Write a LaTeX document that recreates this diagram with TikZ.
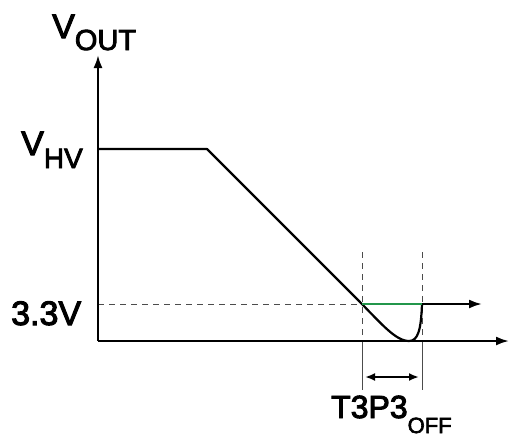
\documentclass[tikz,border=0pt]{standalone}
\usepackage{fontspec}
\setmainfont{Liberation Sans}
\newfontfamily\lblfont{Liberation Sans}[FakeBold=3]
\usetikzlibrary{arrows.meta}
\definecolor{grn}{RGB}{35,150,75}
\begin{document}
\begin{tikzpicture}[x=1pt,y=-1pt,
  axis/.style={line width=2.2pt,-{Latex[length=13pt,width=9pt]}},
  sig/.style={line width=2.2pt},
  guide/.style={line width=0.8pt,draw=black!70,dash pattern=on 6pt off 5pt},
  tick/.style={line width=0.8pt,draw=black!70},
  lbl/.style={inner sep=0pt,font=\lblfont}]
\useasboundingbox (0,0) rectangle (509,437);
\coordinate (O) at (98,341);
\coordinate (ytop) at (98,55);
\coordinate (xend) at (509,341);
\coordinate (hv) at (98,149);
\coordinate (knee) at (207,149);
\coordinate (c1) at (362,304);
\coordinate (mn) at (409,341);
\coordinate (c2) at (422,304);
\coordinate (outend) at (482,304);
\coordinate (l33) at (98,304);
\coordinate (v1t) at (362,252);
\coordinate (v1b) at (362,341);
\coordinate (v1e) at (362,390);
\coordinate (v2t) at (422,252);
\coordinate (v2b) at (422,341);
\coordinate (v2e) at (422,390);
\coordinate (da) at (365,377);
\coordinate (db) at (419,377);
% guides
\draw[guide] (l33) -- (c1);
\draw[guide] (v1t) -- (v1b);
\draw[guide] (v2t) -- (v2b);
\draw[tick] (v1b) -- (v1e);
\draw[tick] (v2b) -- (v2e);
% axes
\draw[axis] (O) -- (ytop);
\draw[axis] (O) -- (xend);
% signal
\draw[sig,line join=round] (hv) -- (knee) -- (355,297) .. controls (380,322) and (395,341) .. (mn) .. controls (418,341) and (421,330) .. (c2);
\draw[sig,draw=grn] (c1) -- (c2);
\draw[sig,-{Latex[length=13pt,width=9pt]}] (c2) -- (outend);
\draw[line width=2.2pt,{Latex[length=10pt,width=8pt]}-{Latex[length=10pt,width=8pt]}] (da) -- (db);
% labels
\node[lbl,anchor=base west] (vout) at (52,38) {\fontsize{34}{36}\selectfont V\raisebox{-12pt}{\fontsize{29}{30}\selectfont OUT}};
\node[lbl,anchor=base west] (vhv) at (21,155) {\fontsize{34}{36}\selectfont V\raisebox{-13pt}{\fontsize{28}{29}\selectfont HV}};
\node[lbl,anchor=base west] (v33) at (11,325) {\fontsize{34}{36}\selectfont 3.3V};
\node[lbl,anchor=base west] (toff) at (331,418) {\fontsize{32}{33}\selectfont T3P3\raisebox{-15pt}{\fontsize{22}{23}\selectfont OFF}};
\end{tikzpicture}
\end{document}
